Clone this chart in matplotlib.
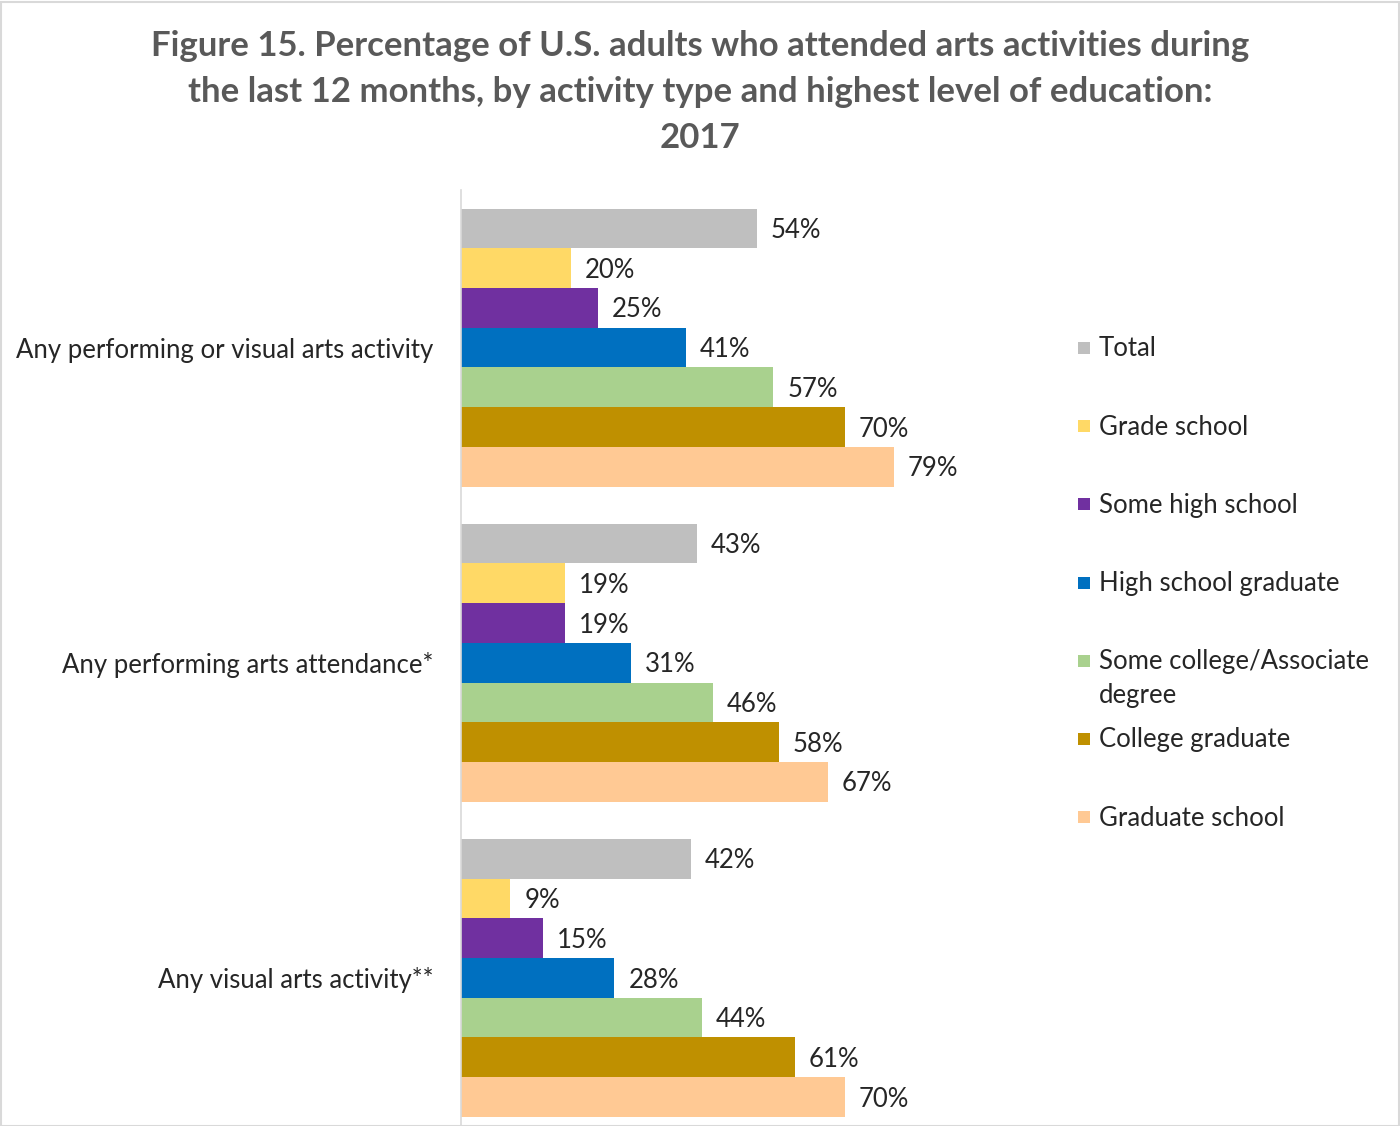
import matplotlib.pyplot as plt
from matplotlib.patches import Rectangle

plt.rcParams['font.family'] = ['Lato', 'DejaVu Sans']

categories = ['Any performing or visual arts activity',
              'Any performing arts attendance*',
              'Any visual arts activity**']
series_names = ['Total', 'Grade school', 'Some high school', 'High school graduate',
                'Some college/Associate\ndegree', 'College graduate', 'Graduate school']

total = [54, 43, 42]
grade_school = [20, 19, 9]
some_high_school = [25, 19, 15]
hs_graduate = [41, 31, 28]
some_college = [57, 46, 44]
college_graduate = [70, 58, 61]
graduate_school = [79, 67, 70]

series_values = [total, grade_school, some_high_school, hs_graduate,
                 some_college, college_graduate, graduate_school]
colors = ['#BFBFBF', '#FFD966', '#7030A0', '#0070C0', '#A9D18E', '#BF9000', '#FFC994']

W, H = 1400, 1126
FS = 18.5
fig = plt.figure(figsize=(W / 100, H / 100), dpi=100)
fig.add_artist(Rectangle((0.001, 0), 0.998, 0.998, transform=fig.transFigure,
                         fill=False, edgecolor='#D9D9D9', lw=1.5))

# axes placed in pixel terms: left 461, top 190, bottom 1135
ax = fig.add_axes([461 / W, (H - 1135.5) / H, 589 / W, 945.5 / H])

bar_h = 0.126
for s, (vals, col) in enumerate(zip(series_values, colors)):
    ys = [g + (s - 3) * bar_h for g in range(len(categories))]
    bars = ax.barh(ys, vals, height=bar_h, color=col, edgecolor='none')
    for b, v in zip(bars, vals):
        ax.annotate(f'{v}%', (b.get_width(), b.get_y() + b.get_height() / 2),
                    xytext=(10, -1.5), textcoords='offset points',
                    va='center', ha='left', fontsize=FS, color='#262626')

ax.set_xlim(0, 107.5)
ax.set_ylim(2.5, -0.5)
ax.set_yticks(range(len(categories)))
ax.set_yticklabels(categories, fontsize=FS, color='#262626')
ax.tick_params(axis='y', length=0, pad=20)
ax.set_xticks([])
for side in ['top', 'right', 'bottom']:
    ax.spines[side].set_visible(False)
ax.spines['left'].set_color('#D9D9D9')
ax.spines['left'].set_linewidth(1.2)

# legend drawn by hand so every entry gets an equal slot, like the original
for i, (name, col) in enumerate(zip(series_names, colors)):
    yc = 348 + 78.2 * i
    fig.add_artist(Rectangle((1078 / W, 1 - (yc + 6) / H), 12 / W, 12 / H,
                             transform=fig.transFigure, color=col, lw=0))
    for j, line in enumerate(name.split('\n')):
        fig.text(1099 / W, 1 - (yc + 1 + 34 * j) / H, line, fontsize=FS,
                 color='#262626', va='center', ha='left')

fig.text(0.5, 1 - 92 / H,
         'Figure 15. Percentage of U.S. adults who attended arts activities during\n'
         'the last 12 months, by activity type and highest level of education:\n2017',
         ha='center', va='center', fontsize=25, fontweight='bold', color='#595959',
         linespacing=1.52)

fig.savefig('out.png', dpi=100)
